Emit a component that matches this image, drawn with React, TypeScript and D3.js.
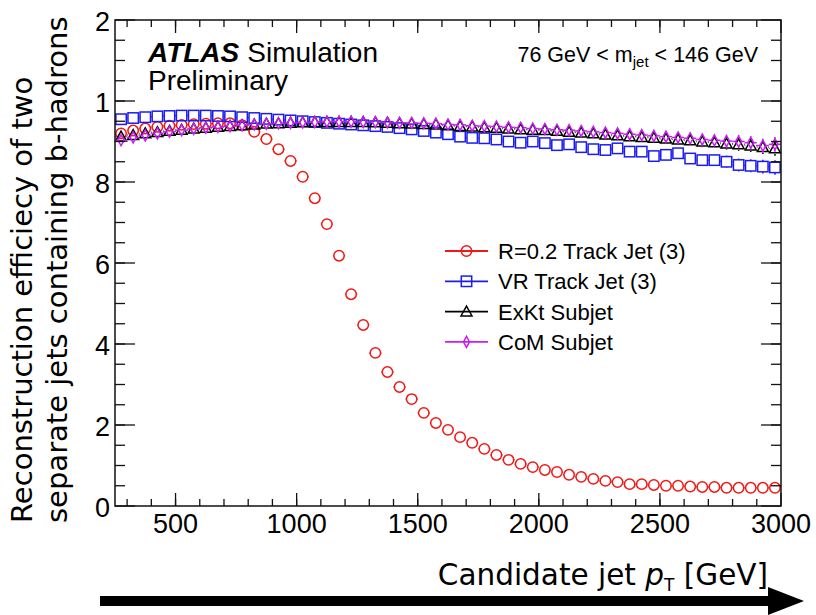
import React from "react";
import * as d3 from "d3";

// pT bin centres (50 GeV bins from 250 to 3000 GeV)
const ptBins: number[] = [
  275, 325, 375, 425, 475, 525, 575, 625, 675, 725,
  775, 825, 875, 925, 975, 1025, 1075, 1125, 1175, 1225,
  1275, 1325, 1375, 1425, 1475, 1525, 1575, 1625, 1675, 1725,
  1775, 1825, 1875, 1925, 1975, 2025, 2075, 2125, 2175, 2225,
  2275, 2325, 2375, 2425, 2475, 2525, 2575, 2625, 2675, 2725,
  2775, 2825, 2875, 2925, 2975,
];

const effR02: number[] = [
  0.920, 0.927, 0.932, 0.936, 0.939, 0.941, 0.943, 0.944, 0.945, 0.945,
  0.940, 0.924, 0.906, 0.881, 0.852, 0.813, 0.760, 0.696, 0.618, 0.523,
  0.447, 0.378, 0.331, 0.294, 0.264, 0.230, 0.205, 0.188, 0.170, 0.156,
  0.141, 0.126, 0.114, 0.104, 0.096, 0.089, 0.084, 0.077, 0.072, 0.067,
  0.062, 0.059, 0.054, 0.054, 0.052, 0.050, 0.050, 0.048, 0.047, 0.047,
  0.045, 0.045, 0.045, 0.045, 0.045,
];

const effVR: number[] = [
  0.955, 0.958, 0.960, 0.962, 0.963, 0.964, 0.964, 0.964, 0.963, 0.962,
  0.960, 0.958, 0.956, 0.954, 0.952, 0.950, 0.948, 0.946, 0.944, 0.942,
  0.940, 0.938, 0.936, 0.933, 0.930, 0.926, 0.922, 0.918, 0.912, 0.909,
  0.908, 0.905, 0.900, 0.897, 0.900, 0.896, 0.891, 0.893, 0.886, 0.881,
  0.879, 0.883, 0.875, 0.875, 0.864, 0.867, 0.871, 0.858, 0.854, 0.854,
  0.850, 0.842, 0.840, 0.838, 0.836,
];

const effExKt: number[] = [
  0.912, 0.916, 0.920, 0.923, 0.926, 0.929, 0.932, 0.934, 0.936, 0.938,
  0.940, 0.942, 0.944, 0.945, 0.946, 0.947, 0.948, 0.948, 0.948, 0.948,
  0.948, 0.947, 0.946, 0.945, 0.944, 0.943, 0.942, 0.940, 0.938, 0.937,
  0.935, 0.934, 0.932, 0.930, 0.929, 0.928, 0.926, 0.924, 0.922, 0.920,
  0.917, 0.915, 0.913, 0.911, 0.909, 0.907, 0.905, 0.903, 0.900, 0.898,
  0.895, 0.893, 0.890, 0.886, 0.883,
];

const effCoM: number[] = [
  0.903, 0.910, 0.915, 0.920, 0.924, 0.928, 0.931, 0.934, 0.936, 0.938,
  0.940, 0.942, 0.944, 0.945, 0.946, 0.947, 0.948, 0.949, 0.949, 0.949,
  0.948, 0.948, 0.947, 0.946, 0.946, 0.945, 0.944, 0.942, 0.941, 0.939,
  0.938, 0.937, 0.935, 0.934, 0.932, 0.931, 0.929, 0.928, 0.926, 0.924,
  0.922, 0.920, 0.918, 0.916, 0.914, 0.912, 0.910, 0.908, 0.905, 0.903,
  0.901, 0.900, 0.897, 0.890, 0.893,
];

// statistical uncertainty per bin
const statErr: number[] = [
  0.002, 0.002, 0.002, 0.002, 0.002, 0.002, 0.002, 0.002, 0.002, 0.002,
  0.002, 0.002, 0.002, 0.003, 0.003, 0.003, 0.003, 0.003, 0.003, 0.003,
  0.004, 0.004, 0.004, 0.004, 0.004, 0.005, 0.005, 0.005, 0.005, 0.006,
  0.006, 0.006, 0.007, 0.007, 0.007, 0.008, 0.008, 0.008, 0.009, 0.009,
  0.010, 0.010, 0.011, 0.011, 0.012, 0.012, 0.013, 0.013, 0.014, 0.014,
  0.015, 0.016, 0.016, 0.017, 0.018,
];

const seriesNames: string[] = [
  "R=0.2 Track Jet (3)",
  "VR Track Jet (3)",
  "ExKt Subjet",
  "CoM Subjet",
];
const seriesColors: string[] = ["#f01818", "#1c1cf0", "#000000", "#c81ef0"];
const seriesMarkers: string[] = ["circle", "square", "triangle", "diamond"];
const seriesValues: number[][] = [effR02, effVR, effExKt, effCoM];

const xMajorTicks: number[] = [500, 1000, 1500, 2000, 2500, 3000];
const xMinorTicks: number[] = d3.range(300, 3000, 100);
const yMajorTicks: number[] = [0, 0.2, 0.4, 0.6, 0.8, 1.0, 1.2];
const yTickLabels: string[] = ["0", "2", "4", "6", "8", "1", "2"];
const yMinorTicks: number[] = d3.range(0.05, 1.2, 0.05);

const W = 816;
const H = 615;
const plot = { left: 115, right: 781, top: 20, bottom: 506 };
const binHalf = 25;

const x = d3.scaleLinear().domain([250, 3000]).range([plot.left, plot.right]);
const y = d3.scaleLinear().domain([0, 1.2]).range([plot.bottom, plot.top]);

const helv = "'Liberation Sans', Arial, Helvetica, sans-serif";
const titleFont = "'DejaVu Sans', Verdana, sans-serif";

function markerHalf(kind: string): [number, number] {
  if (kind === "diamond") return [3, 5.5];
  return [5.5, 5.5];
}

function Marker({ kind, cx, cy, color }: { kind: string; cx: number; cy: number; color: string }) {
  const sw = 1.5;
  if (kind === "circle") {
    return <circle cx={cx} cy={cy} r={5.2} fill="none" stroke={color} strokeWidth={sw} />;
  }
  if (kind === "square") {
    return <rect x={cx - 5.2} y={cy - 5.2} width={10.4} height={10.4} fill="none" stroke={color} strokeWidth={sw} />;
  }
  if (kind === "triangle") {
    const h = 5.5;
    return (
      <polygon
        points={`${cx},${cy - h} ${cx + h},${cy + h * 0.8} ${cx - h},${cy + h * 0.8}`}
        fill="none"
        stroke={color}
        strokeWidth={sw}
      />
    );
  }
  return (
    <polygon
      points={`${cx},${cy - 5.5} ${cx + 3},${cy} ${cx},${cy + 5.5} ${cx - 3},${cy}`}
      fill="none"
      stroke={color}
      strokeWidth={sw}
    />
  );
}

function Series({ values, color, kind, withErr }: { values: number[]; color: string; kind: string; withErr: boolean }) {
  const [hw, hh] = markerHalf(kind);
  return (
    <g>
      {values.map((v, i) => {
        const cx = x(ptBins[i]);
        const cy = y(v);
        const xl = x(ptBins[i] - binHalf);
        const xr = x(ptBins[i] + binHalf);
        const e = withErr ? statErr[i] : 0;
        const yt = y(v + e);
        const yb = y(v - e);
        return (
          <g key={i}>
            <line x1={xl} x2={cx - hw} y1={cy} y2={cy} stroke={color} strokeWidth={1.5} />
            <line x1={cx + hw} x2={xr} y1={cy} y2={cy} stroke={color} strokeWidth={1.5} />
            {cy - yt > hh && <line x1={cx} x2={cx} y1={yt} y2={cy - hh} stroke={color} strokeWidth={1.5} />}
            {yb - cy > hh && <line x1={cx} x2={cx} y1={cy + hh} y2={yb} stroke={color} strokeWidth={1.5} />}
            <Marker kind={kind} cx={cx} cy={cy} color={color} />
          </g>
        );
      })}
    </g>
  );
}

export default function App() {
  const axisColor = "#111";
  return (
    <svg
      width={W}
      height={H}
      viewBox={`0 0 ${W} ${H}`}
      style={{ position: "absolute", left: 0, top: 0, background: "#fff" }}
    >
      <rect x={0} y={0} width={W} height={H} fill="#fff" />

      {/* data */}
      {seriesValues.map((vals, s) => (
        <Series key={s} values={vals} color={seriesColors[s]} kind={seriesMarkers[s]} withErr={s !== 0} />
      ))}

      {/* frame */}
      <rect
        x={plot.left}
        y={plot.top}
        width={plot.right - plot.left}
        height={plot.bottom - plot.top}
        fill="none"
        stroke={axisColor}
        strokeWidth={1.5}
      />

      {/* x ticks, bottom and top */}
      {xMinorTicks.map((t) => (
        <g key={`xm${t}`}>
          <line x1={x(t)} x2={x(t)} y1={plot.bottom} y2={plot.bottom - 7} stroke={axisColor} strokeWidth={1.3} />
          <line x1={x(t)} x2={x(t)} y1={plot.top} y2={plot.top + 7} stroke={axisColor} strokeWidth={1.3} />
        </g>
      ))}
      {xMajorTicks.map((t) => (
        <g key={`xM${t}`}>
          <line x1={x(t)} x2={x(t)} y1={plot.bottom} y2={plot.bottom - 13} stroke={axisColor} strokeWidth={1.3} />
          <line x1={x(t)} x2={x(t)} y1={plot.top} y2={plot.top + 13} stroke={axisColor} strokeWidth={1.3} />
          <text x={x(t)} y={533} fontFamily={helv} fontSize={27} textAnchor="middle" fill="#000">
            {t}
          </text>
        </g>
      ))}

      {/* y ticks, left and right */}
      {yMinorTicks.map((t, i) => (
        <g key={`ym${i}`}>
          <line x1={plot.left} x2={plot.left + 10} y1={y(t)} y2={y(t)} stroke={axisColor} strokeWidth={1.3} />
          <line x1={plot.right} x2={plot.right - 10} y1={y(t)} y2={y(t)} stroke={axisColor} strokeWidth={1.3} />
        </g>
      ))}
      {yMajorTicks.map((t, i) => (
        <g key={`yM${i}`}>
          <line x1={plot.left} x2={plot.left + 20} y1={y(t)} y2={y(t)} stroke={axisColor} strokeWidth={1.3} />
          <line x1={plot.right} x2={plot.right - 20} y1={y(t)} y2={y(t)} stroke={axisColor} strokeWidth={1.3} />
          <text x={110} y={y(t) + 10.5} fontFamily={helv} fontSize={27} textAnchor="end" fill="#000">
            {yTickLabels[i]}
          </text>
        </g>
      ))}

      {/* ATLAS label */}
      <text x={148} y={62} fontFamily={helv} fontSize={28} fill="#000">
        <tspan fontWeight="bold" fontStyle="italic">ATLAS</tspan>
        <tspan dx={8}>Simulation</tspan>
      </text>
      <text x={148} y={90} fontFamily={helv} fontSize={28} fill="#000">
        Preliminary
      </text>

      {/* mass window */}
      <text x={758} y={62} fontFamily={helv} fontSize={21.5} textAnchor="end" fill="#000">
        76 GeV &lt; m
        <tspan fontSize={15} dy={5}>jet</tspan>
        <tspan dy={-5}> &lt; 146 GeV</tspan>
      </text>

      {/* legend */}
      {seriesNames.map((name, i) => {
        const ly = 251 + i * 30.3;
        return (
          <g key={name}>
            <line x1={445} x2={488} y1={ly} y2={ly} stroke={seriesColors[i]} strokeWidth={1.8} />
            <Marker kind={seriesMarkers[i]} cx={466.5} cy={ly} color={seriesColors[i]} />
            <text x={498} y={ly + 8} fontFamily={helv} fontSize={22} fill="#000">
              {name}
            </text>
          </g>
        );
      })}

      {/* axis titles */}
      <text
        transform="translate(32,523) rotate(-90)"
        fontFamily={titleFont}
        fontSize={29}
        fill="#000"
      >
        Reconstruction efficiecy of two
      </text>
      <text
        transform="translate(67,523) rotate(-90)"
        fontFamily={titleFont}
        fontSize={29}
        fill="#000"
      >
        separate jets containing b-hadrons
      </text>
      <text x={768} y={585} fontFamily={titleFont} fontSize={29.5} textAnchor="end" fill="#000">
        Candidate jet <tspan fontStyle="italic">p</tspan>
        <tspan fontSize={17} dy={6}>T</tspan>
        <tspan dy={-6}> [GeV]</tspan>
      </text>

      {/* arrow */}
      <rect x={100} y={596} width={670} height={10} fill="#000" />
      <polygon points="768,587 804,601 768,615" fill="#000" />
    </svg>
  );
}
